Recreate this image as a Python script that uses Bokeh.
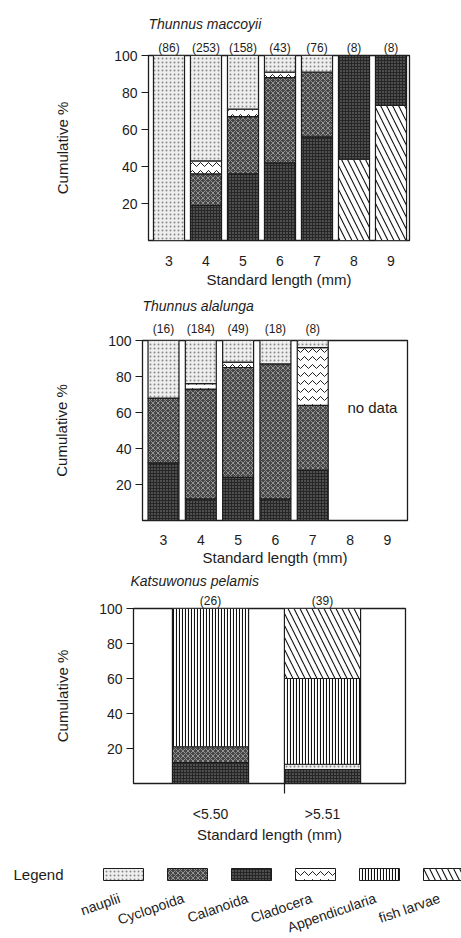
from bokeh.plotting import figure
from bokeh.layouts import column
from bokeh.models import (ColumnDataSource, Range1d, FixedTicker, Label, LinearAxis)
from bokeh.embed import file_html
from bokeh.resources import INLINE
from bokeh.core.properties import value

FONT = "Liberation Sans"
INK = "#1c1c1c"

# ---- data: diet composition (cumulative %), stacked from the bottom up ----
prey_groups = ["nauplii", "Cyclopoida", "Calanoida", "Cladocera",
               "Appendicularia", "fish larvae"]

maccoyii_lengths = [3, 4, 5, 6, 7, 8, 9]
maccoyii_counts = [86, 253, 158, 43, 76, 8, 8]
maccoyii_diet = [
    [("nauplii", 100)],
    [("Calanoida", 19), ("Cyclopoida", 17), ("Cladocera", 7), ("nauplii", 57)],
    [("Calanoida", 36), ("Cyclopoida", 31), ("Cladocera", 4), ("nauplii", 29)],
    [("Calanoida", 42), ("Cyclopoida", 46), ("Cladocera", 3), ("nauplii", 9)],
    [("Calanoida", 56), ("Cyclopoida", 35), ("nauplii", 9)],
    [("fish larvae", 44), ("Calanoida", 56)],
    [("fish larvae", 73), ("Calanoida", 27)],
]

alalunga_axis_lengths = [3, 4, 5, 6, 7, 8, 9]
alalunga_lengths = [3, 4, 5, 6, 7]
alalunga_counts = [16, 184, 49, 18, 8]
alalunga_diet = [
    [("Calanoida", 32), ("Cyclopoida", 36), ("nauplii", 32)],
    [("Calanoida", 12), ("Cyclopoida", 61), ("Cladocera", 3), ("nauplii", 24)],
    [("Calanoida", 24), ("Cyclopoida", 61), ("Cladocera", 3), ("nauplii", 12)],
    [("Calanoida", 12), ("Cyclopoida", 75), ("nauplii", 13)],
    [("Calanoida", 28), ("Cyclopoida", 36), ("Cladocera", 32), ("nauplii", 4)],
]

katsuwonus_classes = ["<5.50", ">5.51"]
katsuwonus_counts = [26, 39]
katsuwonus_diet = [
    [("Calanoida", 12), ("Cyclopoida", 9), ("Appendicularia", 79)],
    [("Calanoida", 8), ("nauplii", 3), ("Appendicularia", 49), ("fish larvae", 40)],
]

# ---- fill / hatch style of each prey group ----
STYLE = {
    "nauplii":        dict(fill="#eeeeee", hatch=".",  hcolor="#8a8a8a", hscale=4,  hweight=1.0),
    "Cyclopoida":     dict(fill="#474747", hatch="x",  hcolor="#a6a6a6", hscale=5,  hweight=0.8),
    "Calanoida":      dict(fill="#262626", hatch=".",  hcolor="#8c8c8c", hscale=3,  hweight=1.0),
    "Cladocera":      dict(fill="#ffffff", hatch="v",  hcolor="#222222", hscale=8,  hweight=1.0),
    "Appendicularia": dict(fill="#ffffff", hatch="|",  hcolor="#111111", hscale=3,  hweight=1.1),
    "fish larvae":    dict(fill="#ffffff", hatch="\\", hcolor="#111111", hscale=12, hweight=1.1),
}


def stack_source(xs, diet):
    cols = dict(x=[], bottom=[], top=[], fill=[], hatch=[], hcolor=[], hscale=[], hweight=[])
    for x, segments in zip(xs, diet):
        base = 0
        for group, pct in segments:
            s = STYLE[group]
            cols["x"].append(x)
            cols["bottom"].append(base)
            cols["top"].append(base + pct)
            cols["fill"].append(s["fill"])
            cols["hatch"].append(s["hatch"])
            cols["hcolor"].append(s["hcolor"])
            cols["hscale"].append(s["hscale"])
            cols["hweight"].append(s["hweight"])
            base += pct
    return ColumnDataSource(cols)


def make_panel(title, height, left, right, top, bottom, x0, x1, ylab_standoff, title_standoff):
    p = figure(width=461, height=height, x_range=Range1d(x0, x1), y_range=Range1d(0, 100),
               output_backend="svg", toolbar_location=None, frame_align=False,
               min_border_left=left, min_border_right=right,
               min_border_top=top, min_border_bottom=bottom)
    p.grid.visible = False
    p.outline_line_color = INK
    p.outline_line_width = 1.3
    p.background_fill_color = "white"
    p.border_fill_color = "white"

    p.title.text = title
    p.title.align = "left"
    p.title.text_font = FONT
    p.title.text_font_size = "14px"
    p.title.text_font_style = "italic"
    p.title.text_color = INK
    p.title.standoff = title_standoff

    ya = p.yaxis[0]
    ya.ticker = FixedTicker(ticks=[20, 40, 60, 80, 100])
    ya.axis_line_color = None
    ya.major_tick_line_color = INK
    ya.major_tick_line_width = 1.2
    ya.major_tick_out = 7
    ya.major_tick_in = 0
    ya.minor_tick_line_color = None
    ya.major_label_standoff = 4
    ya.major_label_text_font = FONT
    ya.major_label_text_font_size = "14px"
    ya.major_label_text_color = INK
    ya.axis_label = "Cumulative %"
    ya.axis_label_text_font = FONT
    ya.axis_label_text_font_size = "15px"
    ya.axis_label_text_font_style = "normal"
    ya.axis_label_text_color = INK
    ya.axis_label_standoff = ylab_standoff
    return p


def style_x_axis(ax, label_standoff, title_standoff, title=True):
    ax.axis_line_color = None
    ax.major_tick_line_color = None
    ax.minor_tick_line_color = None
    ax.major_label_standoff = label_standoff
    ax.major_label_text_font = FONT
    ax.major_label_text_font_size = "14px"
    ax.major_label_text_color = INK
    if title:
        ax.axis_label = "Standard length (mm)"
        ax.axis_label_text_font = FONT
        ax.axis_label_text_font_size = "15px"
        ax.axis_label_text_font_style = "normal"
        ax.axis_label_text_color = INK
        ax.axis_label_standoff = title_standoff


def draw_bars(p, src, width):
    p.vbar(x="x", width=width, bottom="bottom", top="top", source=src,
           fill_color="fill", hatch_pattern="hatch", hatch_color="hcolor",
           hatch_scale="hscale", hatch_weight="hweight",
           line_color=INK, line_width=1.2)


def add_counts(p, xs, counts, standoff):
    # sample sizes printed above each bar on an upper axis
    ax = LinearAxis(ticker=FixedTicker(ticks=xs),
                    major_label_overrides={x: "(%d)" % c for x, c in zip(xs, counts)})
    ax.axis_line_color = None
    ax.major_tick_line_color = None
    ax.major_tick_out = 0
    ax.major_tick_in = 0
    ax.minor_tick_line_color = None
    ax.minor_tick_out = 0
    ax.major_label_standoff = standoff
    ax.major_label_text_font = FONT
    ax.major_label_text_font_size = "12px"
    ax.major_label_text_color = INK
    p.add_layout(ax, "above")


# ---- Thunnus maccoyii ----
p1 = make_panel("Thunnus maccoyii", 290, 148, 52, 55, 47, 2.446, 9.5, 40, 12)
draw_bars(p1, stack_source(maccoyii_lengths, maccoyii_diet), 0.84)
p1.xaxis[0].ticker = FixedTicker(ticks=maccoyii_lengths)
style_x_axis(p1.xaxis[0], 9, 2)
add_counts(p1, maccoyii_lengths, maccoyii_counts, 1)

# ---- Thunnus alalunga ----
p2 = make_panel("Thunnus alalunga", 278, 142, 54, 48, 43, 2.437, 9.54, 35, 10)
draw_bars(p2, stack_source(alalunga_lengths, alalunga_diet), 0.83)
p2.xaxis[0].ticker = FixedTicker(ticks=alalunga_axis_lengths)
style_x_axis(p2.xaxis[0], 8, 1)
add_counts(p2, alalunga_lengths, alalunga_counts, 5)
p2.add_layout(Label(x=8.6, y=62.6, text="no data", text_align="center",
                    text_baseline="middle", text_font=FONT,
                    text_font_size="15px", text_color=INK))

# ---- Katsuwonus pelamis ----
k_pos = [1, 2]
k_width = 0.68
p3 = make_panel("Katsuwonus pelamis", 277, 133, 56, 38, 51, 0.3125, 2.741, 25, 4)
p3.title.offset = -3
draw_bars(p3, stack_source(k_pos, katsuwonus_diet), k_width)
# divider tick between the two size classes
div_axis = p3.xaxis[0]
div_axis.ticker = FixedTicker(ticks=[k_pos[1] - k_width / 2])
div_axis.axis_line_color = None
div_axis.major_tick_line_color = INK
div_axis.major_tick_line_width = 1.2
div_axis.major_tick_out = 10
div_axis.major_tick_in = 0
div_axis.minor_tick_line_color = None
div_axis.major_label_overrides = {k_pos[1] - k_width / 2: " "}
div_axis.major_label_text_font_size = "1px"
div_axis.major_label_standoff = 0
cls_axis = LinearAxis(ticker=FixedTicker(ticks=k_pos),
                      major_label_overrides={k: lab for k, lab in zip(k_pos, katsuwonus_classes)})
style_x_axis(cls_axis, 2, 1)
p3.add_layout(cls_axis, "below")
add_counts(p3, k_pos, katsuwonus_counts, 1)

# ---- legend strip ----
LH = 93
leg = figure(width=461, height=LH, x_range=Range1d(0, 461), y_range=Range1d(0, LH),
             output_backend="svg", toolbar_location=None, min_border=0, frame_align=False)
leg.axis.visible = False
leg.grid.visible = False
leg.outline_line_color = None
leg.background_fill_color = "white"
leg.border_fill_color = "white"

box_cx = [123 + 64 * i for i in range(len(prey_groups))]
lsrc = ColumnDataSource(dict(
    left=[c - 20 for c in box_cx], right=[c + 20 for c in box_cx],
    top=[LH - 23] * len(box_cx), bottom=[LH - 35] * len(box_cx),
    fill=[STYLE[g]["fill"] for g in prey_groups],
    hatch=[STYLE[g]["hatch"] for g in prey_groups],
    hcolor=[STYLE[g]["hcolor"] for g in prey_groups],
    hscale=[STYLE[g]["hscale"] for g in prey_groups],
    hweight=[STYLE[g]["hweight"] for g in prey_groups],
    tx=[c - 4 for c in box_cx], ty=[LH - 52] * len(box_cx), name=prey_groups,
))
leg.quad(left="left", right="right", top="top", bottom="bottom", source=lsrc,
         fill_color="fill", hatch_pattern="hatch", hatch_color="hcolor",
         hatch_scale="hscale", hatch_weight="hweight", line_color=INK, line_width=1)
leg.text(x="tx", y="ty", text="name", source=lsrc, angle=19, angle_units="deg",
         text_align="right", text_baseline="middle", text_font=value(FONT),
         text_font_size="14px", text_color=INK)
leg.text(x=[13], y=[LH - 29], text=["Legend"], text_align="left", text_baseline="middle",
         text_font=value(FONT), text_font_size="15px", text_color=INK)

layout = column(p1, p2, p3, leg, spacing=0)
open("out.html", "w").write(file_html(layout, INLINE))
